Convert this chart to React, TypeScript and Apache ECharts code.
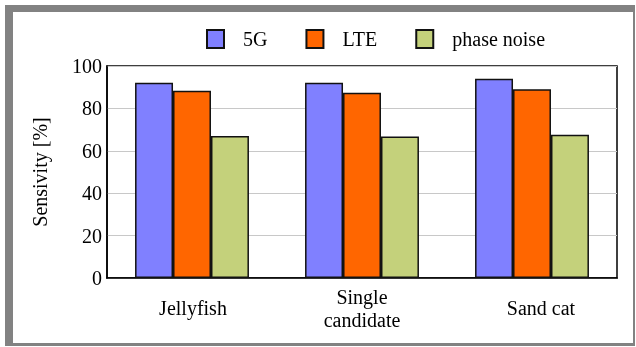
import React, { useEffect, useRef } from "react";
import * as echarts from "echarts";

const categories = ["Jellyfish", "Single\ncandidate", "Sand cat"];
const seriesNames = ["5G", "LTE", "phase noise"];
const values5G = [92.1, 92.1, 94.0];
const valuesLTE = [88.3, 87.4, 89.0];
const valuesPhaseNoise = [67.0, 66.8, 67.6];
const yTicks = [0, 20, 40, 60, 80, 100];

const colors = ["#8080ff", "#ff6600", "#c4d17b"];
const FONT = "'Liberation Serif', 'Times New Roman', 'DejaVu Serif', serif";
// extra left padding per category label (nudges "Sand cat" slightly right)
const labelShift = [2, 0, 18];

export default function App() {
  const ref = useRef<HTMLDivElement>(null);

  useEffect(() => {
    if (!ref.current) return;
    const chart = echarts.init(ref.current, undefined, { renderer: "svg" });
    const data = [values5G, valuesLTE, valuesPhaseNoise];
    const labelStyle = {
      fontFamily: FONT,
      fontSize: 20,
      color: "#000",
      verticalAlign: "middle",
      lineHeight: 23,
    };
    chart.setOption({
      animation: false,
      textStyle: { fontFamily: FONT, color: "#000" },
      graphic: {
        elements: [
          {
            type: "rect",
            z: -10,
            silent: true,
            shape: { x: 5, y: 5, width: 630, height: 341 },
            style: { fill: "#828282" },
          },
          {
            type: "rect",
            z: -9,
            silent: true,
            shape: { x: 13, y: 12, width: 620, height: 331 },
            style: { fill: "#ffffff" },
          },
        ],
      },
      legend: {
        top: 24,
        left: 201,
        icon: "rect",
        itemWidth: 17,
        itemHeight: 18,
        itemGap: 38,
        data: seriesNames,
        textStyle: {
          fontFamily: FONT,
          fontSize: 20,
          color: "#000",
          padding: [0, 0, 0, 14],
        },
      },
      grid: {
        left: 107,
        right: 19,
        top: 66,
        bottom: 69,
        outerBoundsMode: "none",
        containLabel: false,
        show: true,
        borderColor: "#000",
        borderWidth: 1.5,
        backgroundColor: "transparent",
      },
      xAxis: {
        type: "category",
        data: categories.map((c, i) => ({
          value: c,
          textStyle: { ...labelStyle, padding: [0, 0, 0, labelShift[i]] },
        })),
        axisLine: { lineStyle: { color: "#000", width: 1.5 } },
        axisTick: { show: false },
        axisLabel: { ...labelStyle, margin: 30 },
      },
      yAxis: {
        type: "value",
        min: yTicks[0],
        max: yTicks[yTicks.length - 1],
        interval: 20,
        name: "Sensivity [%]",
        nameLocation: "middle",
        nameGap: 57,
        nameTextStyle: { fontFamily: FONT, fontSize: 20, color: "#000" },
        axisLine: { show: true, lineStyle: { color: "#000", width: 1.5 } },
        axisTick: { show: false },
        axisLabel: { fontFamily: FONT, fontSize: 20, color: "#000", margin: 5 },
        splitLine: { lineStyle: { color: "#c8c8c8", width: 1 } },
      },
      series: seriesNames.map((name, i) => ({
        name,
        type: "bar",
        data: data[i],
        barGap: "0%",
        barCategoryGap: "33%",
        itemStyle: { color: colors[i], borderColor: "#111", borderWidth: 1.5 },
      })),
    });
    return () => chart.dispose();
  }, []);

  return (
    <div
      ref={ref}
      style={{ position: "fixed", left: 0, top: 0, width: 636, height: 347 }}
    />
  );
}
